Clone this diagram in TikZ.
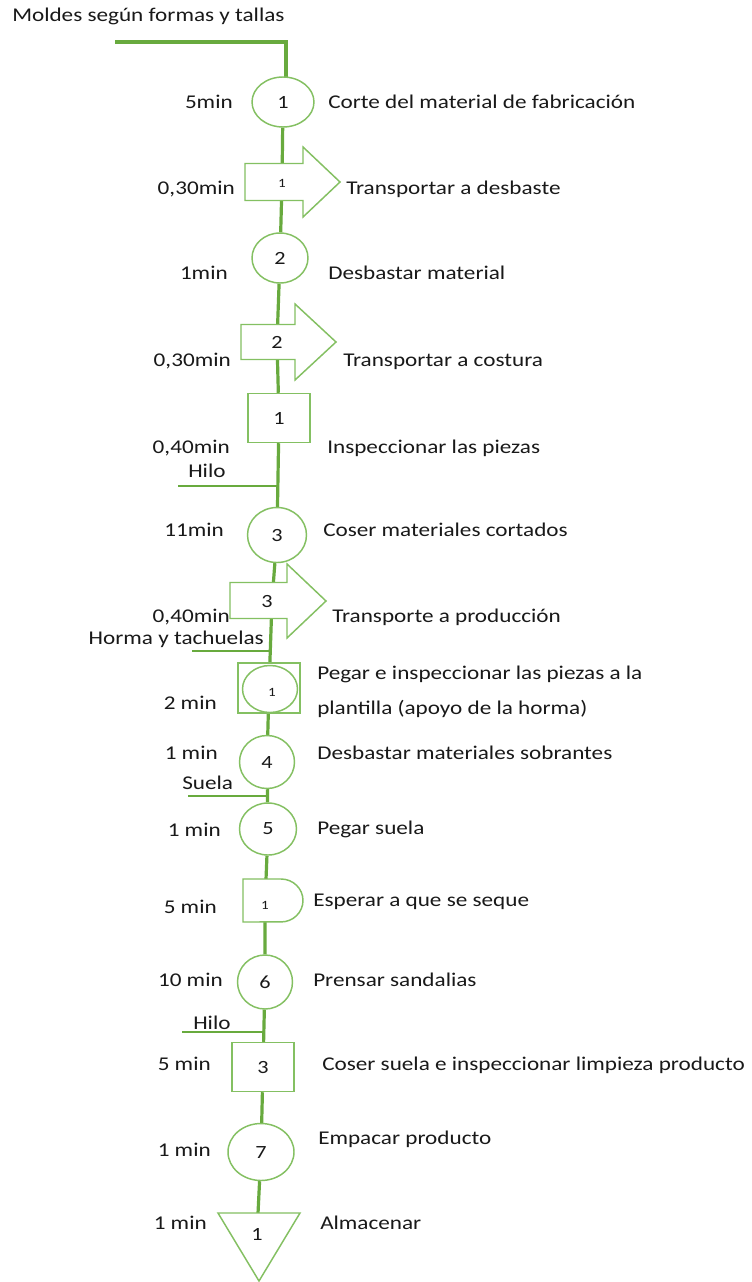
\documentclass[tikz,border=0pt]{standalone}
\usepackage{fontspec}
\setmainfont{Carlito}[FakeStretch=1.19]
\usetikzlibrary{shapes.geometric,backgrounds}
\definecolor{lineg}{RGB}{104,170,62}
\definecolor{shapeg}{RGB}{132,192,98}
\definecolor{txt}{RGB}{25,25,25}
\tikzset{
  lbl/.style={font=\fontsize{14.6}{18}\selectfont, text=txt, inner sep=0pt},
  tm/.style={lbl, anchor=base east},
  ds/.style={lbl, anchor=base west},
  opc/.style n args={2}{ellipse, draw=shapeg, line width=1.1pt, fill=white,
    minimum width=#1*0.75pt, minimum height=#2*0.75pt, inner sep=0pt,
    font=\fontsize{14}{16}\selectfont, text=txt},
  insp/.style n args={2}{rectangle, draw=shapeg, line width=1.1pt, fill=white,
    minimum width=#1*0.75pt, minimum height=#2*0.75pt, inner sep=0pt,
    font=\fontsize{14}{16}\selectfont, text=txt},
  num/.style={font=\fontsize{14}{16}\selectfont, text=txt, inner sep=0pt},
  smallnum/.style={font=\fontsize{9.5}{11}\selectfont, text=txt, inner sep=0pt},
  outl/.style={draw=shapeg, line width=1.1pt, fill=white, line join=miter},
  flow/.style={draw=lineg, line width=2.4pt},
  feed/.style={draw=lineg, line width=1.4pt},
}
\begin{document}
\begin{tikzpicture}[x=0.75pt,y=-0.75pt]
\useasboundingbox (0,0) rectangle (752,1282);

% top input
\coordinate (m0) at (115,42);
\coordinate (m1) at (286,42);
\node[lbl, anchor=base west] (moldes) at (12,21) {Moldes según formas y tallas};

% operation 1
\node[opc={62}{50}] (c1) at (283,102) {1};
\node[tm] (t1) at (233,108) {5min};
\node[ds] (d1t) at (328,108) {Corte del material de fabricación};

% transport 1
\draw[outl] (245,163.5) -- (303,163.5) -- (303,147) -- (340,182) -- (303,217) -- (303,200.5) -- (245,200.5) -- cycle;
\node[smallnum] (a1) at (282,183) {1};
\node[tm] (t2) at (235,194) {0,30min};
\node[ds] (d2t) at (346,194) {Transportar a desbaste};

% operation 2
\node[opc={56}{50}] (c2) at (280,258) {2};
\node[tm] (t3) at (228,279) {1min};
\node[ds] (d3t) at (328,279) {Desbastar material};

% transport 2
\draw[outl] (241,324.5) -- (295,324.5) -- (295,304) -- (336,342) -- (295,380) -- (295,359.5) -- (241,359.5) -- cycle;
\node[num] (a2) at (277,342) {2};
\node[tm] (t4) at (231,366) {0,30min};
\node[ds] (d4t) at (343,366) {Transportar a costura};

% inspection 1
\node[insp={62}{49}] (b1) at (279,418) {1};
\node[tm] (t5) at (230,453) {0,40min};
\node[ds] (d5t) at (327,453) {Inspeccionar las piezas};
\node[lbl, anchor=base west] (hilo1) at (188,477) {Hilo};
\coordinate (f1) at (178,486);

% operation 3
\node[opc={59}{55}] (c3) at (277,535) {3};
\node[tm] (t6) at (224,536) {11min};
\node[ds] (d6t) at (323,536) {Coser materiales cortados};

% transport 3
\draw[outl] (230,582.5) -- (287,582.5) -- (287,564) -- (326,601) -- (287,638) -- (287,618.5) -- (230,618.5) -- cycle;
\node[num] (a3) at (267,601) {3};
\coordinate (a3l) at (272,601);
\node[tm] (t7) at (230,622) {0,40min};
\node[ds] (d7t) at (332,622) {Transporte a producción};
\node[lbl, anchor=base east] (horma) at (264,644) {Horma y tachuelas};
\coordinate (f2) at (192,651);

% combined operation-inspection
\node[insp={62}{50}] (p1) at (269,688) {};
\node[opc={55}{47}] (p1c) at (270,689) {};
\node[smallnum] (p1n) at (272,692) {1};
\node[tm] (t8) at (217,709) {2 min};
\node[ds] (d8t) at (317,679) {Pegar e inspeccionar las piezas a la};
\node[ds] (d8u) at (317,714) {plantilla (apoyo de la horma)};

% operation 4
\node[opc={55}{53}] (c4) at (267,762) {4};
\node[tm] (t9) at (218,759) {1 min};
\node[ds] (d9t) at (317,759) {Desbastar materiales sobrantes};
\node[lbl, anchor=base west] (suela) at (182,789) {Suela};
\coordinate (f3) at (188,796);

% operation 5
\node[opc={57}{52}] (c5) at (268,829) {5};
\node[tm] (t10) at (221,836) {1 min};
\node[ds] (d10t) at (317,834) {Pegar suela};

% delay
\draw[outl] (243,879) -- (281,879) arc[start angle=90, end angle=-90, x radius=16.5pt, y radius=16.1pt] -- (243,922) -- cycle;
\node[smallnum] (dl) at (265,905) {1};
\node[tm] (t11) at (217,913) {5 min};
\node[ds] (d11t) at (313,906) {Esperar a que se seque};

% operation 6
\node[opc={55}{54}] (c6) at (265,982) {6};
\node[tm] (t12) at (223,986) {10 min};
\node[ds] (d12t) at (313,986) {Prensar sandalias};
\node[lbl, anchor=base west] (hilo2) at (193,1029) {Hilo};
\coordinate (f4) at (182,1032);

% inspection 3
\node[insp={62}{49}] (b3) at (263,1067) {3};
\node[tm] (t13) at (211,1070) {5 min};
\node[ds] (d13t) at (322,1070) {Coser suela e inspeccionar limpieza producto};

% operation 7
\node[opc={66}{57}] (c7) at (261,1152) {7};
\node[tm] (t14) at (211,1156) {1 min};
\node[ds] (d14t) at (318,1144) {Empacar producto};

% storage
\draw[outl] (218,1213) -- (300,1213) -- (259,1281) -- cycle;
\node[num] (tr) at (257,1234) {1};
\node[tm] (t15) at (207,1229) {1 min};
\node[ds] (d15t) at (320,1229) {Almacenar};

\begin{scope}[on background layer]
  \fill[white] (0,0) rectangle (752,1282);
  \draw[flow, line cap=butt] (m0) -- (m1) -- (m1 |- c1);
  \draw[flow] (c1) -- (a1) -- (c2) -- (a2) -- (b1) -- (c3) -- (a3l) -- (p1)
     -- (c4) -- (c5) -- (dl) -- (c6) -- (b3) -- (c7) -- (tr);
  \draw[feed] (f1) -- (f1 -| b1);
  \draw[feed] (f2) -- (f2 -| p1);
  \draw[feed] (f3) -- (f3 -| c4);
  \draw[feed] (f4) -- (f4 -| b3);
\end{scope}
\end{tikzpicture}
\end{document}
